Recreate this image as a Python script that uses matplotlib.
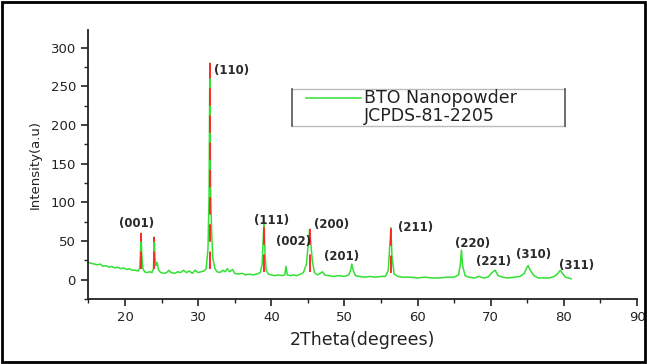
import matplotlib
matplotlib.use("Agg")
import matplotlib.pyplot as plt
from matplotlib.patches import Rectangle
from matplotlib.lines import Line2D
from matplotlib.ticker import MultipleLocator

# ---- data ----
two_theta = [15, 15.4, 15.8, 16.2, 16.6, 17, 17.4, 17.8, 18.2, 18.6, 19, 19.4, 19.8,
             20.2, 20.6, 21, 21.4, 21.8, 22.0, 22.1, 22.2, 22.3, 22.45, 22.7, 23.0,
             23.4, 23.7, 23.9, 24.0, 24.1, 24.25, 24.4, 24.6, 24.9, 25.3, 25.7, 26.0,
             26.3, 26.8, 27.2, 27.6, 28.0, 28.4, 28.8, 29.2, 29.6, 30.0, 30.4, 30.8,
             31.1, 31.35, 31.5, 31.6, 31.7, 31.85, 32.0, 32.3, 32.6, 33.0, 33.4, 33.7,
             34.0, 34.3, 34.7, 35.0, 35.5, 36.0, 36.5, 37.0, 37.5, 38.0, 38.5, 38.75,
             38.9, 39.0, 39.15, 39.3, 39.6, 40.0, 40.5, 41.0, 41.5, 41.85, 42.0, 42.2,
             42.6, 43.0, 43.5, 44.0, 44.4, 44.8, 45.05, 45.25, 45.4, 45.6, 45.9, 46.3,
             46.7, 47.0, 47.3, 47.8, 48.5, 49.2, 50.0, 50.6, 50.85, 51.0, 51.2, 51.5,
             52.0, 52.8, 53.5, 54.2, 55.0, 55.6, 56.0, 56.2, 56.35, 56.5, 56.8, 57.3,
             58.0, 59.0, 60.0, 61.0, 62.0, 63.0, 64.0, 65.0, 65.6, 65.85, 66.0, 66.15,
             66.5, 67.0, 67.8, 68.4, 69.0, 69.6, 70.2, 70.6, 71.0, 71.6, 72.4, 73.2,
             74.0, 74.6, 74.9, 75.1, 75.4, 75.9, 76.5, 77.3, 78.0, 78.7, 79.2, 79.5,
             79.8, 80.2, 80.6, 81.0]
intensity = [22, 21, 20, 19, 20, 17, 18, 16, 17, 15, 16, 14, 15,
             13, 14, 12, 12, 11, 14, 30, 60, 32, 14, 10, 9,
             10, 9, 14, 55, 30, 18, 22, 12, 9, 8, 9, 12,
             9, 8, 10, 9, 12, 9, 11, 8, 12, 9, 10, 11,
             14, 40, 110, 280, 120, 60, 28, 14, 10, 9, 12, 10,
             14, 10, 13, 8, 7, 8, 6, 7, 6, 7, 9, 20,
             55, 75, 33, 12, 7, 6, 5, 6, 5, 6, 17, 6,
             5, 6, 5, 7, 9, 20, 45, 65, 48, 25, 9, 6,
             8, 10, 6, 5, 4, 5, 4, 6, 12, 20, 12, 5,
             4, 3, 4, 3, 4, 4, 12, 45, 67, 30, 7, 4,
             3, 3, 2, 3, 2, 2, 3, 3, 6, 20, 38, 18,
             5, 3, 2, 4, 2, 3, 9, 12, 5, 3, 2, 3,
             4, 8, 15, 18, 12, 5, 2, 2, 2, 4, 8, 12,
             8, 3, 2, 1]

stick_pos = [22.2, 24.0, 31.6, 39.0, 45.25, 56.35]
stick_base = [14, 14, 14, 10, 10, 8]
stick_height = [60, 55, 280, 75, 65, 67]

peak_labels = ["(001)", "(110)", "(111)", "(002)", "(200)", "(201)",
               "(211)", "(220)", "(221)", "(310)", "(311)"]
label_x = [21.6, 34.6, 40.0, 43.1, 48.2, 49.6, 59.7, 67.5, 70.4, 75.8, 81.7]
label_y = [73, 271, 77, 49, 71, 30, 67.5, 47, 23, 32, 18]

series_names = ["BTO Nanopowder", "JCPDS-81-2205"]

plt.rcParams['font.family'] = ['DejaVu Sans']

fig = plt.figure(figsize=(6.47, 3.64), dpi=100)
ax = fig.add_axes([0.1366, 0.179, 0.848, 0.739])

ax.plot(two_theta, intensity, color="#33e033", lw=1.1, zorder=2)
ax.vlines(stick_pos, stick_base, stick_height, colors="#ff2a2a", lw=1.4,
          linestyles=(0, (9, 5)), zorder=3)

for t, x, y in zip(peak_labels, label_x, label_y):
    ax.text(x, y, t, ha="center", va="center", fontsize=8.5, color="#2a2a2a",
            fontweight="semibold")

ax.set_xlim(15, 90)
ax.set_ylim(-25, 323)
ax.xaxis.set_minor_locator(MultipleLocator(5))
ax.yaxis.set_minor_locator(MultipleLocator(25))
ax.set_xticks([20, 30, 40, 50, 60, 70, 80, 90])
ax.set_yticks([0, 50, 100, 150, 200, 250, 300])

for s in ["top", "right"]:
    ax.spines[s].set_visible(False)
for s in ["left", "bottom"]:
    ax.spines[s].set_linewidth(1.3)
    ax.spines[s].set_color("#222222")

ax.tick_params(which="major", direction="out", length=5, width=1.2, labelsize=9.5,
               colors="#222222", pad=4)
ax.tick_params(which="minor", direction="out", length=3, width=1.0, colors="#222222")

ax.set_xlabel("2Theta(degrees)", fontsize=12.5, color="#222222", labelpad=5)
ax.set_ylabel("Intensity(a.u)", fontsize=9.5, color="#222222", labelpad=6)

# legend box (drawn in axes fraction coordinates)
lx0, lx1, ly0, ly1 = 0.372, 0.869, 0.643, 0.781
ax.add_line(Line2D([lx0, lx1], [ly1, ly1], transform=ax.transAxes, color="#bbbbbb", lw=1))
ax.add_line(Line2D([lx0, lx1], [ly0, ly0], transform=ax.transAxes, color="#bbbbbb", lw=1))
ax.add_line(Line2D([lx0, lx0], [ly0, ly1], transform=ax.transAxes, color="#555555", lw=1.2))
ax.add_line(Line2D([lx1, lx1], [ly0, ly1], transform=ax.transAxes, color="#555555", lw=1.2))
ax.add_line(Line2D([0.396, 0.496], [0.745, 0.745], transform=ax.transAxes,
                   color="#33e033", lw=1.1))
ax.text(0.503, 0.745, series_names[0], transform=ax.transAxes, fontsize=12.5,
        va="center", ha="left", color="#222222")
ax.text(0.503, 0.678, series_names[1], transform=ax.transAxes, fontsize=12.5,
        va="center", ha="left", color="#222222")

fig.patches.append(Rectangle((0.003, 0.006), 0.994, 0.988, transform=fig.transFigure,
                             fill=False, lw=2, ec="black"))

fig.savefig("out.png", dpi=100, facecolor="white")
